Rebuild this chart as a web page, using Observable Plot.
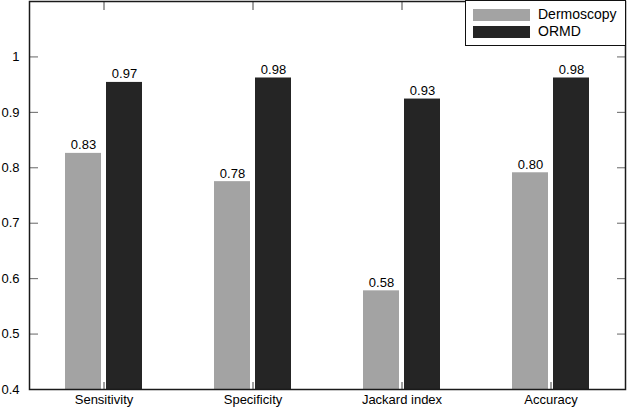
<!DOCTYPE html>
<html><head><meta charset="utf-8">
<script src="https://cdn.jsdelivr.net/npm/d3@7"></script>
<script src="https://cdn.jsdelivr.net/npm/@observablehq/plot@0.6"></script>
<style>
body{margin:0;background:#fff;font-family:"Liberation Sans",Arial,Helvetica,sans-serif;}
#wrap{position:relative;width:628px;height:408px;}
.legend{position:absolute;left:465px;top:0px;width:161px;height:46px;border:1.5px solid #111;background:#fff;box-sizing:border-box;}
.legend .row{position:absolute;left:7px;height:12px;}
.legend .sw{position:absolute;left:0;top:0;width:57px;height:12px;}
.legend .lab{position:absolute;left:65px;top:-3px;font-size:14px;line-height:17px;color:#000;white-space:nowrap;}
</style></head><body><div id="wrap"></div>
<script>
const metrics = ["Sensitivity", "Specificity", "Jackard index", "Accuracy"];
const methods = ["Dermoscopy", "ORMD"];
const dermoscopy = [0.826, 0.775, 0.578, 0.791];
const ormd = [0.954, 0.962, 0.924, 0.962];
const dermoscopyLabels = ["0.83", "0.78", "0.58", "0.80"];
const ormdLabels = ["0.97", "0.98", "0.93", "0.98"];
const colors = ["#a3a3a3", "#252525"];
const yTicks = [0.4, 0.5, 0.6, 0.7, 0.8, 0.9, 1];

const data = metrics.flatMap((m, i) => [
  {metric: m, method: methods[0], value: dermoscopy[i], label: dermoscopyLabels[i]},
  {metric: m, method: methods[1], value: ormd[i], label: ormdLabels[i]}
]);

const font = '"Liberation Sans", Arial, Helvetica, sans-serif';
const plot = Plot.plot({
  width: 628, height: 408,
  marginLeft: 29, marginRight: 3, marginTop: 1, marginBottom: 19,
  style: {fontFamily: font, fontSize: "13px", color: "#000", background: "#fff"},
  fx: {domain: metrics, padding: 0},
  x: {domain: methods, paddingInner: 0.133, paddingOuter: 0.86, axis: null},
  y: {domain: [0.4, 1.1]},
  color: {domain: methods, range: colors},
  marks: [
    Plot.barY(data, {fx: "metric", x: "method", y: "value", fill: "method", clip: true}),
    Plot.text(data, {fx: "metric", x: "method", y: "value", text: "label", lineAnchor: "bottom", dy: -4, fontSize: 13, fill: "#000"}),
    Plot.axisY({anchor: "left", ticks: yTicks, tickSize: -9, tickFormat: () => "", label: null, stroke: "#666"}),
    Plot.axisY({anchor: "left", ticks: yTicks, tickSize: 0, tickPadding: 10, tickFormat: d => String(d), label: null, fontSize: 13}),
    Plot.axisY({anchor: "right", ticks: yTicks, tickSize: -9, tickFormat: () => "", label: null, stroke: "#666"}),
    Plot.axisFx({anchor: "bottom", tickSize: -7, tickPadding: 12, label: null, fontSize: 13, stroke: "#444"}),
    Plot.axisFx({anchor: "top", tickSize: -8, tickFormat: () => "", label: null, stroke: "#444"}),
    Plot.frame({facet: "super", stroke: "#1a1a1a", strokeWidth: 1.5})
  ]
});
const wrap = document.getElementById("wrap");
wrap.appendChild(plot);
const legend = document.createElement("div");
legend.className = "legend";
methods.forEach((m, i) => {
  const row = document.createElement("div");
  row.className = "row";
  row.style.top = (8 + i * 17) + "px";
  row.innerHTML = `<div class="sw" style="background:${colors[i]}"></div><div class="lab">${m}</div>`;
  legend.appendChild(row);
});
wrap.appendChild(legend);
</script></body></html>
